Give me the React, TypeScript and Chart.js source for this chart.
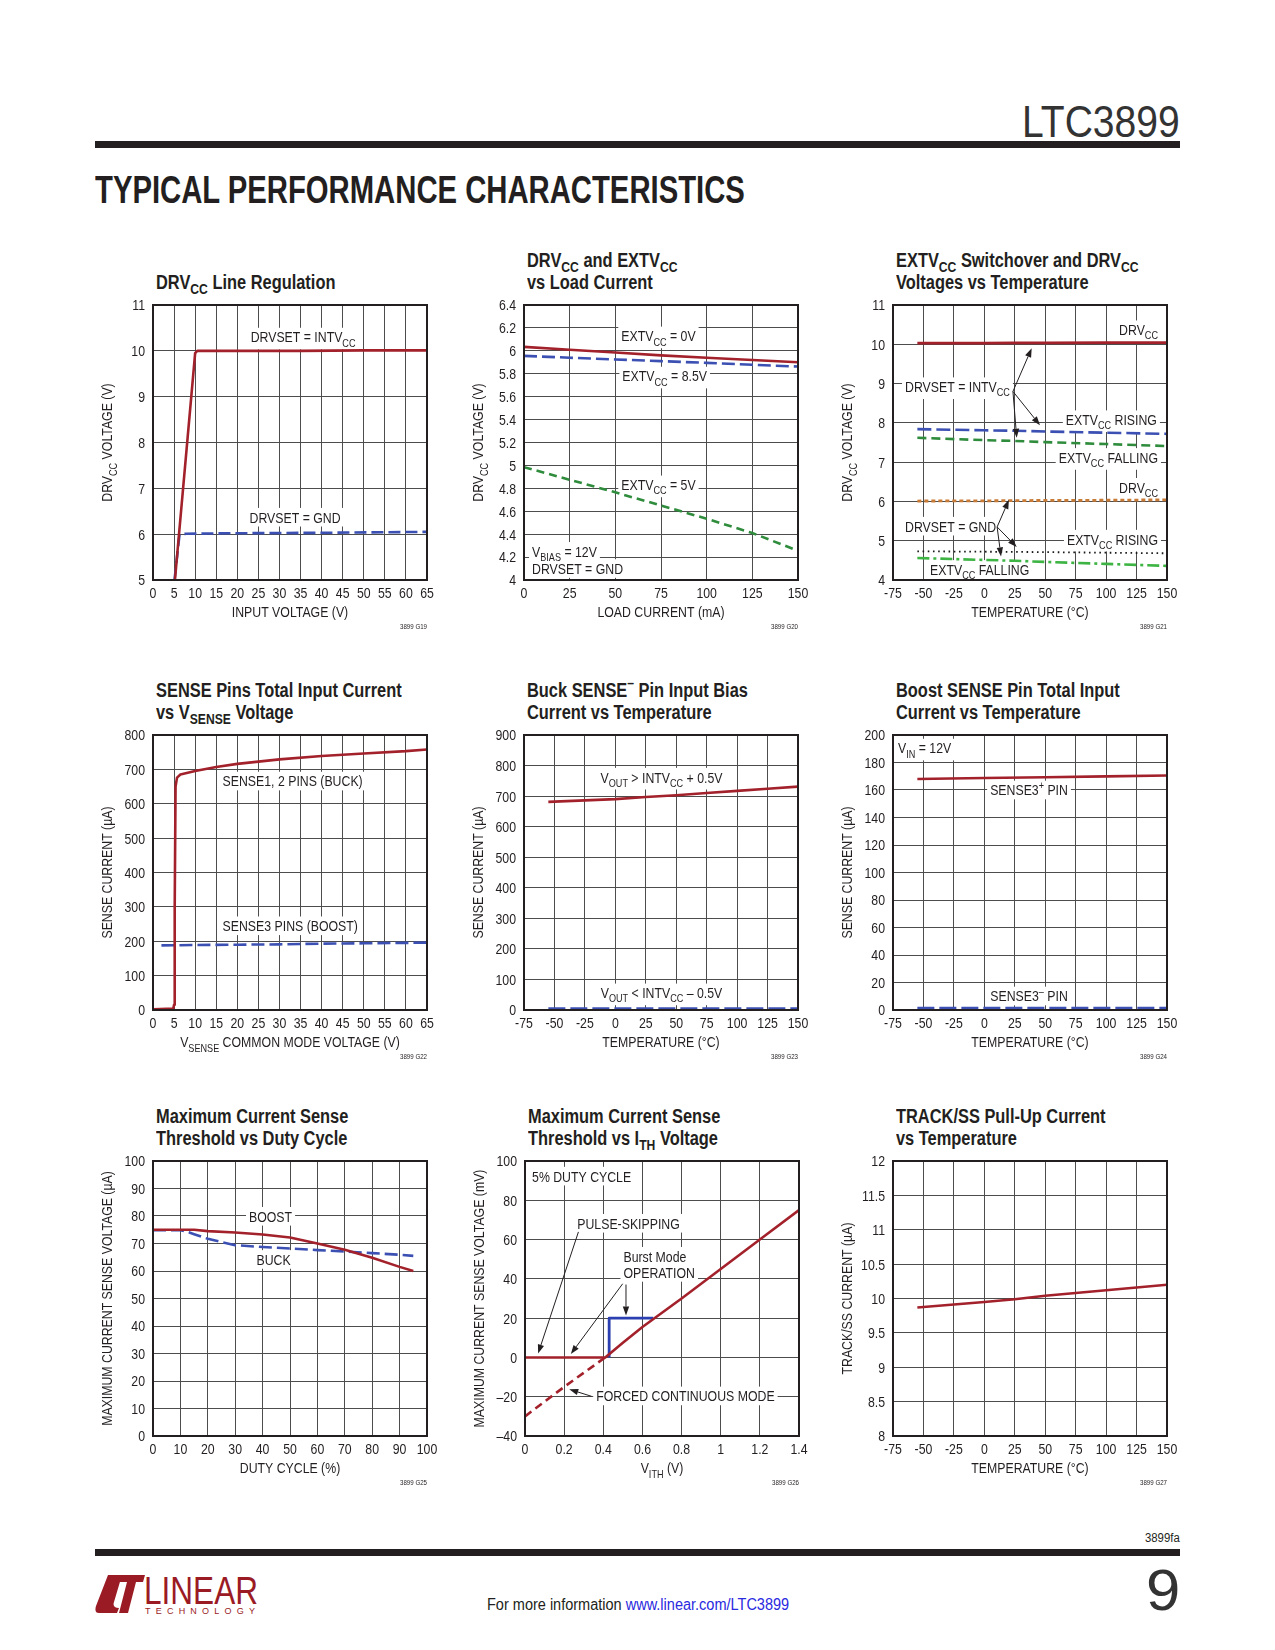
import React, { useEffect, useLayoutEffect, useRef } from "react";
import { Chart, registerables } from "chart.js";

Chart.register(...registerables);

const FONT = "'Liberation Sans', Arimo, Arial, sans-serif";
const NX = 0.82; // horizontal condensing factor for text
const INK = "#231f20";
const GRID = "#4d4d4d";
const RED = "#a3212b";
const BLUE = "#3b50b2";
const GREEN = "#2f8c3c";
const ORANGE = "#c97a34";
const LGREEN = "#3db443";
const DOT = "#1a1a1a";
const LOGO = "#9b1b25";

/* ---------------- data ---------------- */
// shared temperature axis
const tempTicks = [-75, -50, -25, 0, 25, 50, 75, 100, 125, 150];
const tempLabels = ["-75", "-50", "-25", "0", "25", "50", "75", "100", "125", "150"];

// G19 DRVcc line regulation
const g19XTicks = [0, 5, 10, 15, 20, 25, 30, 35, 40, 45, 50, 55, 60, 65];
const g19XLabels = ["0", "5", "10", "15", "20", "25", "30", "35", "40", "45", "50", "55", "60", "65"];
const g19YTicks = [5, 6, 7, 8, 9, 10, 11];
const g19YLabels = ["5", "6", "7", "8", "9", "10", "11"];
const g19IntvccX = [5.2, 10, 10.5, 20, 35, 50, 65];
const g19IntvccY = [5.0, 9.95, 10.0, 10.0, 10.0, 10.01, 10.01];
const g19GndX = [5.1, 6.3, 8, 20, 40, 65];
const g19GndY = [5.0, 6.0, 6.01, 6.02, 6.03, 6.05];

// G20 DRVcc and EXTVcc vs load current
const g20XTicks = [0, 25, 50, 75, 100, 125, 150];
const g20XLabels = ["0", "25", "50", "75", "100", "125", "150"];
const g20YTicks = [4, 4.2, 4.4, 4.6, 4.8, 5, 5.2, 5.4, 5.6, 5.8, 6, 6.2, 6.4];
const g20YLabels = ["4", "4.2", "4.4", "4.6", "4.8", "5", "5.2", "5.4", "5.6", "5.8", "6", "6.2", "6.4"];
const g20LoadX = [0, 25, 50, 75, 100, 125, 150];
const g20Ext0Y = [6.035, 6.01, 5.985, 5.96, 5.94, 5.92, 5.9];
const g20Ext85Y = [5.956, 5.94, 5.925, 5.91, 5.895, 5.878, 5.863];
const g20Ext5Y = [4.985, 4.875, 4.765, 4.65, 4.535, 4.41, 4.255];

// G21 EXTVcc switchover and DRVcc vs temperature
const g21YTicks = [4, 5, 6, 7, 8, 9, 10, 11];
const g21YLabels = ["4", "5", "6", "7", "8", "9", "10", "11"];
const g21TempX = [-55, 0, 25, 50, 100, 150];
const g21DrvIntY = [10.03, 10.03, 10.035, 10.035, 10.04, 10.04];
const g21RiseIntY = [7.84, 7.81, 7.8, 7.78, 7.75, 7.72];
const g21FallIntY = [7.62, 7.56, 7.54, 7.51, 7.46, 7.41];
const g21DrvGndY = [6.01, 6.015, 6.02, 6.025, 6.03, 6.04];
const g21RiseGndY = [4.73, 4.72, 4.715, 4.71, 4.695, 4.68];
const g21FallGndY = [4.56, 4.51, 4.49, 4.46, 4.41, 4.36];

// G22 SENSE pins total input current vs VSENSE
const g22XTicks = g19XTicks;
const g22XLabels = g19XLabels;
const g22YTicks = [0, 100, 200, 300, 400, 500, 600, 700, 800];
const g22YLabels = ["0", "100", "200", "300", "400", "500", "600", "700", "800"];
const g22BuckX = [0, 4.8, 5.0, 5.15, 5.35, 5.7, 6.5, 10, 15, 20, 30, 40, 50, 60, 65];
const g22BuckY = [2, 4, 15, 300, 650, 676, 685, 695, 707, 716, 729, 739, 746, 753, 758];
const g22BoostX = [2, 10, 20, 30, 40, 50, 65];
const g22BoostY = [188, 189, 190, 191, 193, 194, 196];

// G23 Buck SENSE- pin input bias current vs temperature
const g23YTicks = [0, 100, 200, 300, 400, 500, 600, 700, 800, 900];
const g23YLabels = ["0", "100", "200", "300", "400", "500", "600", "700", "800", "900"];
const g23TempX = [-55, 0, 25, 50, 75, 100, 125, 150];
const g23HighY = [681, 690, 697, 703, 710, 717, 724, 731];
const g23LowX = [-55, 150];
const g23LowY = [5, 5];

// G24 Boost SENSE pin total input current vs temperature
const g24YTicks = [0, 20, 40, 60, 80, 100, 120, 140, 160, 180, 200];
const g24YLabels = ["0", "20", "40", "60", "80", "100", "120", "140", "160", "180", "200"];
const g24PlusX = [-55, 0, 50, 100, 150];
const g24PlusY = [168, 168.7, 169.3, 169.9, 170.5];
const g24MinusX = [-55, 150];
const g24MinusY = [1.5, 1.5];

// G25 Max current sense threshold vs duty cycle
const g25XTicks = [0, 10, 20, 30, 40, 50, 60, 70, 80, 90, 100];
const g25XLabels = ["0", "10", "20", "30", "40", "50", "60", "70", "80", "90", "100"];
const g25YTicks = [0, 10, 20, 30, 40, 50, 60, 70, 80, 90, 100];
const g25YLabels = ["0", "10", "20", "30", "40", "50", "60", "70", "80", "90", "100"];
const g25BoostX = [0, 10, 15, 20, 30, 40, 50, 60, 70, 80, 90, 95];
const g25BoostY = [75, 75, 75, 74.5, 74, 73.3, 72.2, 70, 67.7, 64.8, 61.5, 60];
const g25BuckX = [0, 10, 12, 15, 20, 30, 40, 50, 60, 70, 80, 90, 95];
const g25BuckY = [74.8, 74.8, 74.4, 73.4, 71.7, 69.4, 68.7, 68.2, 67.6, 67.1, 66.5, 65.9, 65.5];

// G26 Max current sense threshold vs ITH
const g26XTicks = [0, 0.2, 0.4, 0.6, 0.8, 1, 1.2, 1.4];
const g26XLabels = ["0", "0.2", "0.4", "0.6", "0.8", "1", "1.2", "1.4"];
const g26YTicks = [-40, -20, 0, 20, 40, 60, 80, 100];
const g26YLabels = ["\u201340", "\u201320", "0", "20", "40", "60", "80", "100"];
const g26PsX = [0, 0.41, 0.5, 0.6, 0.8, 1.0, 1.2, 1.4];
const g26PsY = [0, 0, 7.5, 15.5, 30, 45, 60, 75];
const g26FcmX = [0, 0.2, 0.41];
const g26FcmY = [-30, -15, 0];
const g26BurstX = [0.43, 0.43, 0.655];
const g26BurstY = [0, 20, 20];

// G27 TRACK/SS pull-up current vs temperature
const g27YTicks = [8, 8.5, 9, 9.5, 10, 10.5, 11, 11.5, 12];
const g27YLabels = ["8", "8.5", "9", "9.5", "10", "10.5", "11", "11.5", "12"];
const g27TempX = [-55, 0, 25, 50, 75, 100, 125, 150];
const g27CurY = [9.87, 9.95, 9.99, 10.04, 10.08, 10.12, 10.16, 10.2];

/* ---------------- layout constants ---------------- */
const AXW = 75;
const AXH = 60;
const PADT = 15;
const PADR = 25;
const PW = 274;
const PH = 275;
const FS = 15;

type Align = "left" | "center" | "right";
interface Series { xs: number[]; ys: number[]; color: string; width: number; dash?: number[]; cap?: string }
interface Label { x: number; y: number; text: string; align: Align }
interface Arrow { x1: number; y1: number; x2: number; y2: number }
interface Spec {
  id: string; plotL: number; plotT: number; title: string[];
  xTicks: number[]; xLabels: string[]; yTicks: number[]; yLabels: string[];
  xTitle: string; yTitle: string; fig: string;
  series: Series[]; labels: Label[]; arrows: Arrow[];
}

const specs: Spec[] = [
  {
    id: "g19", plotL: 153, plotT: 305, title: ["DRV_{CC} Line Regulation"],
    xTicks: g19XTicks, xLabels: g19XLabels, yTicks: g19YTicks, yLabels: g19YLabels,
    xTitle: "INPUT VOLTAGE (V)", yTitle: "DRV_{CC} VOLTAGE (V)", fig: "3899 G19",
    series: [
      { xs: g19IntvccX, ys: g19IntvccY, color: RED, width: 2.6 },
      { xs: g19GndX, ys: g19GndY, color: BLUE, width: 2.6, dash: [12, 5] },
    ],
    labels: [
      { x: 35.6, y: 10.3, text: "DRVSET = INTV_{CC}", align: "center" },
      { x: 33.7, y: 6.37, text: "DRVSET = GND", align: "center" },
    ],
    arrows: [],
  },
  {
    id: "g20", plotL: 524, plotT: 305, title: ["DRV_{CC} and EXTV_{CC}", "vs Load Current"],
    xTicks: g20XTicks, xLabels: g20XLabels, yTicks: g20YTicks, yLabels: g20YLabels,
    xTitle: "LOAD CURRENT (mA)", yTitle: "DRV_{CC} VOLTAGE (V)", fig: "3899 G20",
    series: [
      { xs: g20LoadX, ys: g20Ext0Y, color: RED, width: 2.6 },
      { xs: g20LoadX, ys: g20Ext85Y, color: BLUE, width: 2.6, dash: [13, 5] },
      { xs: g20LoadX, ys: g20Ext5Y, color: GREEN, width: 2.6, dash: [8, 5] },
    ],
    labels: [
      { x: 73.6, y: 6.13, text: "EXTV_{CC} = 0V", align: "center" },
      { x: 77, y: 5.78, text: "EXTV_{CC} = 8.5V", align: "center" },
      { x: 73.6, y: 4.83, text: "EXTV_{CC} = 5V", align: "center" },
      { x: 4.4, y: 4.25, text: "V_{BIAS} = 12V", align: "left" },
      { x: 4.4, y: 4.1, text: "DRVSET = GND", align: "left" },
    ],
    arrows: [],
  },
  {
    id: "g21", plotL: 893, plotT: 305, title: ["EXTV_{CC} Switchover and DRV_{CC}", "Voltages vs Temperature"],
    xTicks: tempTicks, xLabels: tempLabels, yTicks: g21YTicks, yLabels: g21YLabels,
    xTitle: "TEMPERATURE (\u00B0C)", yTitle: "DRV_{CC} VOLTAGE (V)", fig: "3899 G21",
    series: [
      { xs: g21TempX, ys: g21DrvIntY, color: RED, width: 2.8 },
      { xs: g21TempX, ys: g21RiseIntY, color: BLUE, width: 2.6, dash: [14, 5] },
      { xs: g21TempX, ys: g21FallIntY, color: GREEN, width: 2.6, dash: [9, 5] },
      { xs: g21TempX, ys: g21DrvGndY, color: ORANGE, width: 2.8, dash: [4, 3] },
      { xs: g21TempX, ys: g21RiseGndY, color: DOT, width: 1.8, dash: [1.6, 3.6] },
      { xs: g21TempX, ys: g21FallGndY, color: LGREEN, width: 2.6, dash: [12, 4, 3, 4] },
    ],
    labels: [
      { x: 142.6, y: 10.37, text: "DRV_{CC}", align: "right" },
      { x: -65.1, y: 8.92, text: "DRVSET = INTV_{CC}", align: "left" },
      { x: 141.7, y: 8.08, text: "EXTV_{CC} RISING", align: "right" },
      { x: 142.6, y: 7.12, text: "EXTV_{CC} FALLING", align: "right" },
      { x: 142.6, y: 6.36, text: "DRV_{CC}", align: "right" },
      { x: -65.1, y: 5.37, text: "DRVSET = GND", align: "left" },
      { x: 142.6, y: 5.04, text: "EXTV_{CC} RISING", align: "right" },
      { x: -44.6, y: 4.27, text: "EXTV_{CC} FALLING", align: "left" },
    ],
    arrows: [
      { x1: 23.5, y1: 8.8, x2: 38.9, y2: 9.9 },
      { x1: 23.5, y1: 8.8, x2: 45.7, y2: 7.94 },
      { x1: 23.5, y1: 8.8, x2: 26.6, y2: 7.62 },
      { x1: 10.5, y1: 5.35, x2: 20.2, y2: 6.04 },
      { x1: 10.5, y1: 5.35, x2: 26.6, y2: 4.84 },
      { x1: 10.5, y1: 5.35, x2: 13.7, y2: 4.6 },
    ],
  },
  {
    id: "g22", plotL: 153, plotT: 735, title: ["SENSE Pins Total Input Current", "vs V_{SENSE} Voltage"],
    xTicks: g22XTicks, xLabels: g22XLabels, yTicks: g22YTicks, yLabels: g22YLabels,
    xTitle: "V_{SENSE} COMMON MODE VOLTAGE (V)", yTitle: "SENSE CURRENT (\u00B5A)", fig: "3899 G22",
    series: [
      { xs: g22BuckX, ys: g22BuckY, color: RED, width: 2.6 },
      { xs: g22BoostX, ys: g22BoostY, color: BLUE, width: 2.6, dash: [13, 5] },
    ],
    labels: [
      { x: 16.5, y: 666, text: "SENSE1, 2 PINS (BUCK)", align: "left" },
      { x: 16.5, y: 245, text: "SENSE3 PINS (BOOST)", align: "left" },
    ],
    arrows: [],
  },
  {
    id: "g23", plotL: 524, plotT: 735, title: ["Buck SENSE^{\u2013} Pin Input Bias", "Current vs Temperature"],
    xTicks: tempTicks, xLabels: tempLabels, yTicks: g23YTicks, yLabels: g23YLabels,
    xTitle: "TEMPERATURE (\u00B0C)", yTitle: "SENSE CURRENT (\u00B5A)", fig: "3899 G23",
    series: [
      { xs: g23TempX, ys: g23HighY, color: RED, width: 2.6 },
      { xs: g23LowX, ys: g23LowY, color: BLUE, width: 2.6, dash: [17, 5] },
    ],
    labels: [
      { x: 37.9, y: 762, text: "V_{OUT} > INTV_{CC} + 0.5V", align: "center" },
      { x: 37.9, y: 56, text: "V_{OUT} < INTV_{CC} \u2013 0.5V", align: "center" },
    ],
    arrows: [],
  },
  {
    id: "g24", plotL: 893, plotT: 735, title: ["Boost SENSE Pin Total Input", "Current vs Temperature"],
    xTicks: tempTicks, xLabels: tempLabels, yTicks: g24YTicks, yLabels: g24YLabels,
    xTitle: "TEMPERATURE (\u00B0C)", yTitle: "SENSE CURRENT (\u00B5A)", fig: "3899 G24",
    series: [
      { xs: g24PlusX, ys: g24PlusY, color: RED, width: 2.6 },
      { xs: g24MinusX, ys: g24MinusY, color: BLUE, width: 2.6, dash: [17, 5] },
    ],
    labels: [
      { x: -70.9, y: 190.5, text: "V_{IN} = 12V", align: "left" },
      { x: 36.7, y: 160, text: "SENSE3^{+} PIN", align: "center" },
      { x: 36.7, y: 10.2, text: "SENSE3^{\u2013} PIN", align: "center" },
    ],
    arrows: [],
  },
  {
    id: "g25", plotL: 153, plotT: 1161, title: ["Maximum Current Sense", "Threshold vs Duty Cycle"],
    xTicks: g25XTicks, xLabels: g25XLabels, yTicks: g25YTicks, yLabels: g25YLabels,
    xTitle: "DUTY CYCLE (%)", yTitle: "MAXIMUM CURRENT SENSE VOLTAGE (\u00B5A)", fig: "3899 G25",
    series: [
      { xs: g25BoostX, ys: g25BoostY, color: RED, width: 2.6 },
      { xs: g25BuckX, ys: g25BuckY, color: BLUE, width: 2.6, dash: [13, 5] },
    ],
    labels: [
      { x: 42.9, y: 79.9, text: "BOOST", align: "center" },
      { x: 44, y: 64.2, text: "BUCK", align: "center" },
    ],
    arrows: [],
  },
  {
    id: "g26", plotL: 525, plotT: 1161, title: ["Maximum Current Sense", "Threshold vs I_{TH} Voltage"],
    xTicks: g26XTicks, xLabels: g26XLabels, yTicks: g26YTicks, yLabels: g26YLabels,
    xTitle: "V_{ITH} (V)", yTitle: "MAXIMUM CURRENT SENSE VOLTAGE (mV)", fig: "3899 G26",
    series: [
      { xs: g26PsX, ys: g26PsY, color: RED, width: 2.6 },
      { xs: g26FcmX, ys: g26FcmY, color: RED, width: 2.6, dash: [8, 5] },
      { xs: g26BurstX, ys: g26BurstY, color: "#2b3fb0", width: 2.8 },
    ],
    labels: [
      { x: 0.036, y: 92.3, text: "5% DUTY CYCLE", align: "left" },
      { x: 0.267, y: 68.3, text: "PULSE-SKIPPING", align: "left" },
      { x: 0.503, y: 51.5, text: "Burst Mode", align: "left" },
      { x: 0.503, y: 43.3, text: "OPERATION", align: "left" },
      { x: 0.364, y: -19.6, text: "FORCED CONTINUOUS MODE", align: "left" },
    ],
    arrows: [
      { x1: 0.273, y1: 63.9, x2: 0.067, y2: 2.0 },
      { x1: 0.499, y1: 37.5, x2: 0.234, y2: 1.7 },
      { x1: 0.516, y1: 37.1, x2: 0.516, y2: 21.3 },
      { x1: 0.34, y1: -19.8, x2: 0.226, y2: -16.2 },
    ],
  },
  {
    id: "g27", plotL: 893, plotT: 1161, title: ["TRACK/SS Pull-Up Current", "vs Temperature"],
    xTicks: tempTicks, xLabels: tempLabels, yTicks: g27YTicks, yLabels: g27YLabels,
    xTitle: "TEMPERATURE (\u00B0C)", yTitle: "TRACK/SS CURRENT (\u00B5A)", fig: "3899 G27",
    series: [{ xs: g27TempX, ys: g27CurY, color: RED, width: 2.6 }],
    labels: [],
    arrows: [],
  },
];

/* ---------------- rich text helpers ---------------- */
interface Seg { t: string; k: number }
function parseRich(s: string): Seg[] {
  const out: Seg[] = [];
  let buf = "";
  let i = 0;
  while (i < s.length) {
    const c = s[i];
    if ((c === "_" || c === "^") && s[i + 1] === "{") {
      if (buf) out.push({ t: buf, k: 0 });
      buf = "";
      const end = s.indexOf("}", i);
      out.push({ t: s.slice(i + 2, end), k: c === "_" ? 1 : 2 });
      i = end + 1;
    } else {
      buf += c;
      i++;
    }
  }
  if (buf) out.push({ t: buf, k: 0 });
  return out;
}

function fillN(ctx: CanvasRenderingContext2D, t: string, x: number, y: number) {
  ctx.save();
  ctx.translate(x, y);
  ctx.scale(NX, 1);
  ctx.textAlign = "left";
  ctx.textBaseline = "alphabetic";
  ctx.fillText(t, 0, 0);
  ctx.restore();
}

// mode: 0 = background + text, 1 = background only, 2 = text only
function drawRich(ctx: CanvasRenderingContext2D, text: string, x: number, y: number, size: number, align: Align, mode: number) {
  const parts = parseRich(text);
  const f = (k: number) => `${k ? size * 0.74 : size}px ${FONT}`;
  let w = 0;
  const ws = parts.map((p) => {
    ctx.font = f(p.k);
    const m = ctx.measureText(p.t).width * NX;
    w += m;
    return m;
  });
  let x0 = align === "left" ? x : align === "right" ? x - w : x - w / 2;
  const hasSub = parts.some((p) => p.k === 1);
  if (mode === 0 || mode === 1) {
    ctx.fillStyle = "#ffffff";
    ctx.fillRect(x0 - 3, y - size * 0.62, w + 6, size * 1.24 + (hasSub ? size * 0.2 : 0));
  }
  if (mode === 1) return;
  ctx.fillStyle = INK;
  const base = y + size * 0.36;
  parts.forEach((p, i) => {
    ctx.font = f(p.k);
    const dy = p.k === 1 ? size * 0.28 : p.k === 2 ? -size * 0.4 : 0;
    fillN(ctx, p.t, x0, base + dy);
    x0 += ws[i];
  });
}

function drawArrow(ctx: CanvasRenderingContext2D, x1: number, y1: number, x2: number, y2: number) {
  const a = Math.atan2(y2 - y1, x2 - x1);
  const L = 9;
  const Wd = 3.2;
  const bx = x2 - L * Math.cos(a);
  const by = y2 - L * Math.sin(a);
  ctx.strokeStyle = INK;
  ctx.lineWidth = 1;
  ctx.beginPath();
  ctx.moveTo(x1, y1);
  ctx.lineTo(bx, by);
  ctx.stroke();
  ctx.fillStyle = INK;
  ctx.beginPath();
  ctx.moveTo(x2, y2);
  ctx.lineTo(bx + Wd * Math.sin(a), by - Wd * Math.cos(a));
  ctx.lineTo(bx - Wd * Math.sin(a), by + Wd * Math.cos(a));
  ctx.closePath();
  ctx.fill();
}

function annotPlugin(spec: Spec) {
  return {
    id: "annot_" + spec.id,
    beforeDatasetsDraw(chart: any) {
      const ctx = chart.ctx;
      const xs = chart.scales.x;
      const ys = chart.scales.y;
      ctx.save();
      spec.labels.forEach((l) => drawRich(ctx, l.text, xs.getPixelForValue(l.x), ys.getPixelForValue(l.y), FS, l.align, 1));
      spec.labels.forEach((l) => drawRich(ctx, l.text, xs.getPixelForValue(l.x), ys.getPixelForValue(l.y), FS, l.align, 2));
      ctx.restore();
    },
    afterDatasetsDraw(chart: any) {
      const ctx = chart.ctx;
      const xs = chart.scales.x;
      const ys = chart.scales.y;
      const a = chart.chartArea;
      ctx.save();
      spec.arrows.forEach((r) =>
        drawArrow(ctx, xs.getPixelForValue(r.x1), ys.getPixelForValue(r.y1), xs.getPixelForValue(r.x2), ys.getPixelForValue(r.y2))
      );
      ctx.strokeStyle = INK;
      ctx.lineWidth = 2;
      ctx.strokeRect(a.left, a.top, a.right - a.left, a.bottom - a.top);
      ctx.restore();
    },
    afterDraw(chart: any) {
      const ctx = chart.ctx;
      const a = chart.chartArea;
      const xs = chart.scales.x;
      const ys = chart.scales.y;
      ctx.save();
      // tick labels, placed by the chart's own scales
      ctx.font = `${FS}px ${FONT}`;
      ctx.fillStyle = INK;
      xs.ticks.forEach((t: any) => {
        const i = spec.xTicks.findIndex((v) => Math.abs(v - t.value) < 1e-9);
        if (i < 0) return;
        const s = spec.xLabels[i];
        const w = ctx.measureText(s).width * NX;
        fillN(ctx, s, xs.getPixelForValue(t.value) - w / 2, a.bottom + 12.7 + FS * 0.36);
      });
      ys.ticks.forEach((t: any) => {
        const i = spec.yTicks.findIndex((v) => Math.abs(v - t.value) < 1e-9);
        if (i < 0) return;
        const s = spec.yLabels[i];
        const w = ctx.measureText(s).width * NX;
        fillN(ctx, s, a.left - 8 - w, ys.getPixelForValue(t.value) + FS * 0.36);
      });
      drawRich(ctx, spec.xTitle, (a.left + a.right) / 2, a.bottom + 32, FS, "center", 2);
      ctx.font = `7.5px ${FONT}`;
      const fw = ctx.measureText(spec.fig).width * NX;
      fillN(ctx, spec.fig, a.right - fw, a.bottom + 48.5);
      ctx.translate(a.left - 46, (a.top + a.bottom) / 2);
      ctx.rotate(-Math.PI / 2);
      drawRich(ctx, spec.yTitle, 0, 0, FS, "center", 2);
      ctx.restore();
    },
  };
}

function buildConfig(spec: Spec): any {
  const datasets = spec.series.map((s) => ({
    data: s.xs.map((x, i) => ({ x, y: s.ys[i] })),
    borderColor: s.color,
    borderWidth: s.width,
    borderDash: s.dash || [],
    borderCapStyle: s.cap || "butt",
    borderJoinStyle: "round",
    pointRadius: 0,
    fill: false,
    tension: 0,
  }));
  return {
    type: "line",
    data: { datasets },
    options: {
      responsive: false,
      animation: false,
      devicePixelRatio: 1,
      events: [],
      layout: { padding: { left: 0, top: PADT, right: PADR, bottom: 0 } },
      plugins: { legend: { display: false }, tooltip: { enabled: false }, title: { display: false } },
      scales: {
        x: {
          type: "linear",
          min: spec.xTicks[0],
          max: spec.xTicks[spec.xTicks.length - 1],
          afterBuildTicks: (s: any) => {
            s.ticks = spec.xTicks.map((v) => ({ value: v }));
          },
          afterFit: (s: any) => {
            s.height = AXH;
          },
          grid: { color: GRID, lineWidth: 1, drawTicks: false },
          border: { display: false },
          ticks: { display: false, autoSkip: false },
        },
        y: {
          type: "linear",
          min: spec.yTicks[0],
          max: spec.yTicks[spec.yTicks.length - 1],
          afterBuildTicks: (s: any) => {
            s.ticks = spec.yTicks.map((v) => ({ value: v }));
          },
          afterFit: (s: any) => {
            s.width = AXW;
          },
          grid: { color: GRID, lineWidth: 1, drawTicks: false },
          border: { display: false },
          ticks: { display: false, autoSkip: false },
        },
      },
    },
    plugins: [annotPlugin(spec)],
  };
}

function Rich({ text }: { text: string }) {
  return (
    <>
      {parseRich(text).map((p, i) =>
        p.k === 0 ? (
          <span key={i}>{p.t}</span>
        ) : (
          <span key={i} style={{ fontSize: "0.74em", position: "relative", top: p.k === 1 ? "0.35em" : "-0.6em" }}>
            {p.t}
          </span>
        )
      )}
    </>
  );
}

// text squeezed horizontally to a target width (or by the default condensing factor)
function Squeeze({ width, origin, children }: { width?: number; origin: string; children: any }) {
  const ref = useRef<HTMLSpanElement>(null);
  useLayoutEffect(() => {
    const el = ref.current;
    if (!el) return;
    const s = width ? width / el.offsetWidth : NX;
    el.style.transform = `scaleX(${s})`;
  }, [width]);
  return (
    <span ref={ref} style={{ display: "inline-block", whiteSpace: "nowrap", transformOrigin: origin, transform: `scaleX(${NX})` }}>
      {children}
    </span>
  );
}

function ChartPanel({ spec }: { spec: Spec }) {
  const ref = useRef<HTMLCanvasElement>(null);
  useEffect(() => {
    const chart = new Chart(ref.current as HTMLCanvasElement, buildConfig(spec));
    return () => chart.destroy();
  }, [spec]);
  const W = AXW + PW + PADR;
  const H = PADT + PH + AXH;
  const n = spec.title.length;
  return (
    <>
      <div
        style={{
          position: "absolute",
          left: spec.plotL + 3,
          top: spec.plotT - 34 - (n - 1) * 22,
          fontSize: 20,
          fontWeight: "bold",
          lineHeight: "22px",
          whiteSpace: "nowrap",
        }}
      >
        {spec.title.map((t, i) => (
          <div key={i} style={{ height: 22 }}>
            <Squeeze origin="left">
              <Rich text={t} />
            </Squeeze>
          </div>
        ))}
      </div>
      <canvas
        ref={ref}
        width={W}
        height={H}
        style={{ position: "absolute", left: spec.plotL - AXW, top: spec.plotT - PADT, width: W, height: H }}
      />
    </>
  );
}

export default function App() {
  return (
    <div
      style={{
        position: "absolute",
        left: 0,
        top: 0,
        width: 1275,
        height: 1650,
        background: "#ffffff",
        fontFamily: FONT,
        color: INK,
        overflow: "hidden",
      }}
    >
      <div style={{ position: "absolute", right: 95, top: 100, fontSize: 44, lineHeight: "44px", color: "#333" }}>
        <Squeeze width={158} origin="right">LTC3899</Squeeze>
      </div>
      <div style={{ position: "absolute", left: 95, top: 141, width: 1085, height: 7, background: INK }} />
      <div style={{ position: "absolute", left: 95, top: 171, fontSize: 38, lineHeight: "38px", fontWeight: "bold" }}>
        <Squeeze width={650} origin="left">TYPICAL PERFORMANCE CHARACTERISTICS</Squeeze>
      </div>

      {specs.map((s) => (
        <ChartPanel key={s.id} spec={s} />
      ))}

      <div style={{ position: "absolute", right: 95, top: 1532, fontSize: 12, lineHeight: "12px" }}>
        <Squeeze width={35} origin="right">3899fa</Squeeze>
      </div>
      <div style={{ position: "absolute", left: 95, top: 1549, width: 1085, height: 7, background: INK }} />
      <div style={{ position: "absolute", right: 95, top: 1561, fontSize: 58, lineHeight: "58px", color: "#333" }}>
        <Squeeze width={34} origin="right">9</Squeeze>
      </div>
      <div style={{ position: "absolute", left: 487, top: 1597, fontSize: 16, lineHeight: "16px" }}>
        <Squeeze width={302} origin="left">
          For more information <span style={{ color: "#2a2ae0" }}>www.linear.com/LTC3899</span>
        </Squeeze>
      </div>
      <svg style={{ position: "absolute", left: 95, top: 1573 }} width={170} height={42} viewBox="0 0 170 42">
        <path d="M13 2 L27 2 L19 29 Q17 35 24 35 L22 40 L4 40 Q-1 40 1 33 Z" fill={LOGO} />
        <path d="M25 2 L50 2 L48 9 L41 9 L33 40 L24 40 L32 9 L23 9 Z" fill={LOGO} />
        <text x={49} y={31} fontSize={38} fill={LOGO} fontFamily={FONT} textLength={114} lengthAdjust="spacingAndGlyphs">
          LINEAR
        </text>
        <text x={50} y={41} fontSize={9} fill={LOGO} fontFamily={FONT} textLength={110} lengthAdjust="spacing">
          TECHNOLOGY
        </text>
      </svg>
    </div>
  );
}
